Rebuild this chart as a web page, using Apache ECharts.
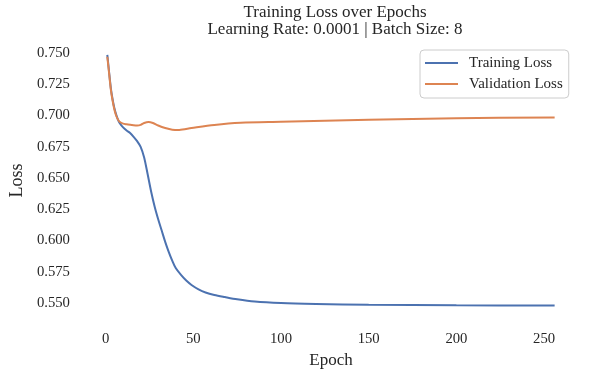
<!DOCTYPE html>
<html>
<head>
<meta charset="utf-8">
<script src="https://cdn.jsdelivr.net/npm/echarts@6/dist/echarts.min.js"></script>
<style>html,body{margin:0;padding:0;background:#fff}#c{width:601px;height:374px}</style>
</head>
<body>
<div id="c"></div>
<script>
const trainEpochs = [1, 2, 3, 4, 5, 6, 7, 8, 10, 12, 14, 16, 18, 20, 22, 24, 26, 28, 30, 32, 34, 36, 38, 40, 43, 46, 49, 53, 57, 62, 68, 75, 85, 100, 120, 150, 200, 256];
const trainLoss   = [0.7485, 0.735, 0.722, 0.713, 0.706, 0.701, 0.697, 0.694, 0.6905, 0.688, 0.686, 0.683, 0.6795, 0.675, 0.6665, 0.653, 0.639, 0.627, 0.617, 0.608, 0.599, 0.591, 0.584, 0.578, 0.5725, 0.568, 0.5645, 0.561, 0.5585, 0.5565, 0.5548, 0.553, 0.5512, 0.5500, 0.5493, 0.5487, 0.5482, 0.548];
const valEpochs = [1, 2, 3, 4, 5, 6, 7, 8, 10, 12, 15, 18, 20, 22, 24.5, 27, 30, 34, 38, 42, 49, 62, 77, 100, 150, 200, 256];
const valLoss   = [0.747, 0.734, 0.721, 0.712, 0.705, 0.700, 0.697, 0.695, 0.6935, 0.693, 0.6925, 0.692, 0.6925, 0.694, 0.6948, 0.694, 0.692, 0.690, 0.6887, 0.6885, 0.690, 0.6925, 0.6942, 0.6950, 0.6967, 0.6978, 0.6985];
const xTicks = [0, 50, 100, 150, 200, 250];
const yTicks = [0.550, 0.575, 0.600, 0.625, 0.650, 0.675, 0.700, 0.725, 0.750];
const seriesNames = ['Training Loss', 'Validation Loss'];
const titleText = 'Training Loss over Epochs\nLearning Rate: 0.0001 | Batch Size: 8';

const font = 'Liberation Serif';
const txt = '#262626';
const chart = echarts.init(document.getElementById('c'), null, {renderer: 'canvas'});
chart.setOption({
  animation: false,
  backgroundColor: '#fff',
  textStyle: {fontFamily: font, color: txt},
  title: {
    text: titleText, left: 330, top: -1, textAlign: 'center',
    textStyle: {fontFamily: font, fontSize: 17, fontWeight: 'normal', color: txt, lineHeight: 17}
  },
  legend: {
    orient: 'vertical', left: 420, top: 50,
    data: seriesNames.map(n => ({name: n, icon: 'rect'})),
    borderColor: '#cccccc', borderWidth: 1, borderRadius: 4,
    padding: [5, 6, 6, 5], itemGap: 5, itemWidth: 33, itemHeight: 2,
    textStyle: {fontFamily: font, fontSize: 15, color: txt, padding: [0, 0, 0, 6], lineHeight: 16}
  },
  grid: {left: 83, right: 24, top: 43, bottom: 55, containLabel: false},
  xAxis: {
    type: 'value', min: -11.75, max: 268.75,
    name: 'Epoch', nameLocation: 'middle', nameGap: 28,
    nameTextStyle: {fontFamily: font, fontSize: 17, color: txt},
    axisLine: {show: false}, axisTick: {show: false}, splitLine: {show: false},
    axisLabel: {customValues: xTicks, fontFamily: font, fontSize: 14.7, color: txt, margin: 14}
  },
  yAxis: {
    type: 'value', min: 0.538, max: 0.758,
    name: 'Loss', nameLocation: 'middle', nameGap: 54, nameRotate: 90,
    nameTextStyle: {fontFamily: font, fontSize: 18, color: txt},
    axisLine: {show: false}, axisTick: {show: false}, splitLine: {show: false},
    axisLabel: {customValues: yTicks, fontFamily: font, fontSize: 14.7, color: txt, margin: 15,
      formatter: v => v.toFixed(3)}
  },
  series: [
    {name: seriesNames[0], type: 'line', smooth: 0.3, symbol: 'none', showSymbol: false,
     lineStyle: {color: '#4c72b0', width: 2}, itemStyle: {color: '#4c72b0'},
     data: trainEpochs.map((e, i) => [e, trainLoss[i]])},
    {name: seriesNames[1], type: 'line', smooth: 0.3, symbol: 'none', showSymbol: false,
     lineStyle: {color: '#dd8452', width: 2}, itemStyle: {color: '#dd8452'},
     data: valEpochs.map((e, i) => [e, valLoss[i]])}
  ]
});
</script>
</body>
</html>
